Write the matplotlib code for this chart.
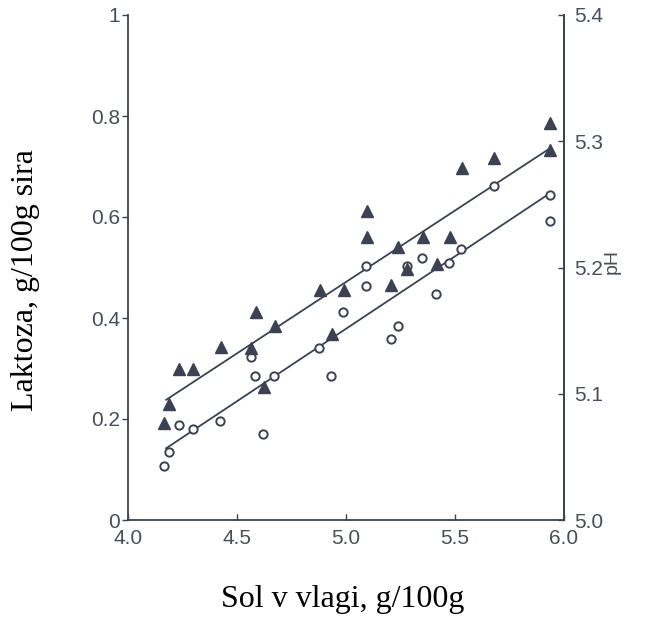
import matplotlib
matplotlib.use("Agg")
import matplotlib.pyplot as plt

# Data
tri_x = [4.167, 4.189, 4.233, 4.300, 4.428, 4.566, 4.589, 4.622, 4.673, 4.880,
         4.936, 4.992, 5.097, 5.097, 5.208, 5.240, 5.281, 5.353, 5.416, 5.478,
         5.531, 5.677, 5.936, 5.936]
tri_y = [0.193, 0.229, 0.300, 0.300, 0.342, 0.340, 0.411, 0.264, 0.385, 0.455,
         0.368, 0.455, 0.612, 0.560, 0.465, 0.541, 0.498, 0.560, 0.507, 0.560,
         0.698, 0.716, 0.786, 0.733]

circ_x = [4.167, 4.186, 4.232, 4.297, 4.423, 4.566, 4.581, 4.618, 4.668, 4.878,
          4.932, 4.987, 5.093, 5.093, 5.205, 5.240, 5.281, 5.350, 5.413, 5.474,
          5.528, 5.677, 5.936, 5.936]
circ_y = [0.107, 0.134, 0.189, 0.180, 0.197, 0.323, 0.286, 0.170, 0.286, 0.341,
          0.286, 0.411, 0.464, 0.502, 0.358, 0.385, 0.502, 0.519, 0.447, 0.508,
          0.537, 0.662, 0.644, 0.592]

fit_x = [4.175, 5.925]
tri_fit = [0.238, 0.733]
circ_fit = [0.142, 0.644]

x_ticks = [4.0, 4.5, 5.0, 5.5, 6.0]
y_ticks = [0, 0.2, 0.4, 0.6, 0.8, 1]
y_ticklabels = ["0", "0.2", "0.4", "0.6", "0.8", "1"]
ph_ticks = [5.0, 5.1, 5.2, 5.3, 5.4]

ink = "#3d4252"
txt = "#4a4e5a"

fig = plt.figure(figsize=(6.53, 6.17), dpi=100)
ax = fig.add_axes([128/653, 1 - 520/617, (564-128)/653, (520-15)/617])

ax.plot(fit_x, tri_fit, color=ink, lw=1.3)
ax.plot(fit_x, circ_fit, color=ink, lw=1.3)
ax.plot(circ_x, circ_y, linestyle="none", marker="o", markersize=6,
        markerfacecolor="white", markeredgecolor=ink, markeredgewidth=1.4)
ax.plot(tri_x, tri_y, linestyle="none", marker="^", markersize=9,
        markerfacecolor=ink, markeredgecolor=ink)

ax.set_xlim(4.0, 6.0)
ax.set_ylim(0, 1)
ax.set_xticks(x_ticks)
ax.set_xticklabels([f"{v:.1f}" for v in x_ticks])
ax.set_yticks(y_ticks)
ax.set_yticklabels(y_ticklabels)

for s in ["left", "bottom", "right"]:
    ax.spines[s].set_color(ink)
    ax.spines[s].set_linewidth(1.3)
ax.spines["top"].set_visible(False)

ax.tick_params(axis="y", direction="out", length=4, width=1.0, color=ink,
               labelsize=15, labelcolor=txt, pad=1.5)
ax.tick_params(axis="x", direction="in", length=4, width=1.0, color=ink,
               labelsize=15, labelcolor=txt, pad=6.5)
for lab in ax.get_xticklabels() + ax.get_yticklabels():
    lab.set_fontfamily("Liberation Sans")

ax2 = ax.twinx()
ax2.set_ylim(5.0, 5.4)
ax2.set_yticks(ph_ticks)
ax2.set_yticklabels([f"{v:.1f}" for v in ph_ticks])
ax2.spines["top"].set_visible(False)
ax2.spines["left"].set_visible(False)
ax2.spines["bottom"].set_visible(False)
ax2.spines["right"].set_color(ink)
ax2.spines["right"].set_linewidth(1.3)
ax2.tick_params(direction="in", length=4, width=1.0, color=ink,
                labelsize=15, labelcolor=txt, pad=7.5)
for lab in ax2.get_yticklabels():
    lab.set_fontfamily("Liberation Sans")

fig.text(343/653, 1 - 599/617, "Sol v vlagi, g/100g", fontsize=23,
         family="Liberation Serif", ha="center", va="center", color="black")
fig.text(26/653, 1 - 280/617, "Laktoza, g/100g sira", fontsize=23,
         family="Liberation Serif", ha="center", va="center", rotation=90,
         color="black")
fig.text(612/653, 1 - 262/617, "pH", fontsize=14, family="Liberation Sans",
         ha="center", va="center", rotation=90, color=txt)

fig.savefig("out.png", dpi=100)
